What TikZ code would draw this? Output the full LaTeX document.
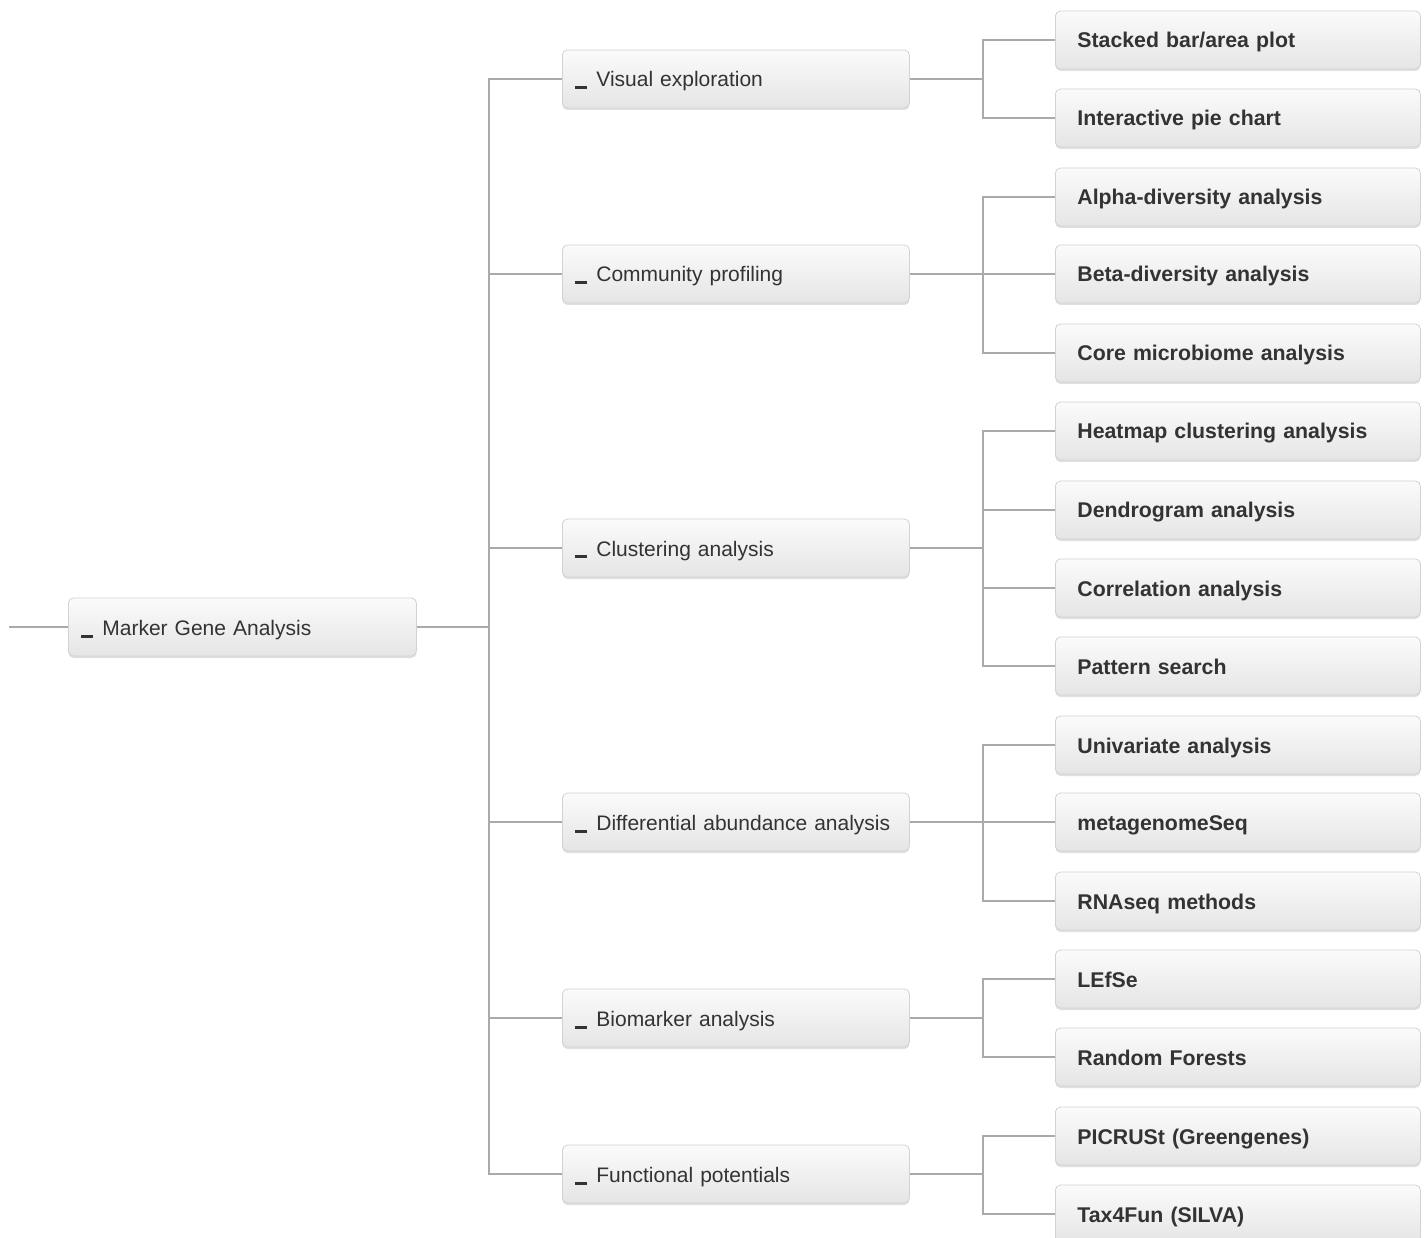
\documentclass[tikz,border=0pt]{standalone}
\usepackage{fontspec}
\setmainfont{Liberation Sans}
\usetikzlibrary{shadows}
\definecolor{txt}{HTML}{333333}
\definecolor{edge}{HTML}{AAAAAA}
\definecolor{bord}{HTML}{D2D2D2}
\definecolor{boxtop}{HTML}{FBFBFB}
\definecolor{boxbot}{HTML}{E5E5E5}
\newcommand{\mydash}{\rule[-2.5pt]{12pt}{3pt}\hspace{9pt}}
\tikzset{
  box/.style={draw=bord, line width=0.8pt, rounded corners=5pt,
    top color=boxtop, bottom color=boxbot,
    drop shadow={shadow xshift=0pt, shadow yshift=-2pt, opacity=0.12, fill=black},
    minimum height=58pt, text=txt, align=left, text height=16pt, text depth=0pt,
    font=\fontsize{21}{25}\selectfont, anchor=west},
  rootbox/.style={box, minimum width=348pt, text width=322pt, inner xsep=13pt},
  midbox/.style={box, minimum width=347pt, text width=321pt, inner xsep=13pt},
  leafbox/.style={box, minimum width=365pt, text width=321pt, inner xsep=22pt,
    font=\fontsize{21.3}{25}\selectfont\bfseries},
  conn/.style={draw=edge, line width=1.8pt}
}
\begin{document}
\begin{tikzpicture}[x=1pt,y=-1pt]
\useasboundingbox (0,0) rectangle (1428,1238);
% root
\node[rootbox] (root) at (68,627) {\mydash Marker Gene Analysis};
% level 2
\node[midbox] (vis) at (562,79) {\mydash Visual exploration};
\node[midbox] (com) at (562,274) {\mydash Community profiling};
\node[midbox] (clu) at (562,548) {\mydash Clustering analysis};
\node[midbox] (dif) at (562,822) {\mydash Differential abundance analysis};
\node[midbox] (bio) at (562,1018) {\mydash Biomarker analysis};
\node[midbox] (fun) at (562,1174) {\mydash Functional potentials};
% level 3
\node[leafbox] (s1) at (1055,40) {Stacked bar/area plot};
\node[leafbox] (s2) at (1055,118) {Interactive pie chart};
\node[leafbox] (c1) at (1055,197) {Alpha-diversity analysis};
\node[leafbox] (c2) at (1055,274) {Beta-diversity analysis};
\node[leafbox] (c3) at (1055,353) {Core microbiome analysis};
\node[leafbox] (k1) at (1055,431) {Heatmap clustering analysis};
\node[leafbox] (k2) at (1055,510) {Dendrogram analysis};
\node[leafbox] (k3) at (1055,588) {Correlation analysis};
\node[leafbox] (k4) at (1055,666) {Pattern search};
\node[leafbox] (d1) at (1055,745) {Univariate analysis};
\node[leafbox] (d2) at (1055,822) {metagenomeSeq};
\node[leafbox] (d3) at (1055,901) {RNAseq methods};
\node[leafbox] (b1) at (1055,979) {LEfSe};
\node[leafbox] (b2) at (1055,1057) {Random Forests};
\node[leafbox] (f1) at (1055,1136) {PICRUSt (Greengenes)};
\node[leafbox] (f2) at (1055,1214) {Tax4Fun (SILVA)};
% connectors
\coordinate (start) at (9,627);
\draw[conn] (start) -- (root.west);
\coordinate (j0) at (489,627);
\draw[conn] (root.east) -- (j0);
\foreach \c in {vis,com,clu,dif,bio,fun} \draw[conn] (j0) |- (\c.west);
\coordinate (jv) at (983,79);
\draw[conn] (vis.east) -- (jv);
\foreach \c in {s1,s2} \draw[conn] (jv) |- (\c.west);
\coordinate (jc) at (983,274);
\draw[conn] (com.east) -- (jc);
\foreach \c in {c1,c2,c3} \draw[conn] (jc) |- (\c.west);
\coordinate (jk) at (983,548);
\draw[conn] (clu.east) -- (jk);
\foreach \c in {k1,k2,k3,k4} \draw[conn] (jk) |- (\c.west);
\coordinate (jd) at (983,822);
\draw[conn] (dif.east) -- (jd);
\foreach \c in {d1,d2,d3} \draw[conn] (jd) |- (\c.west);
\coordinate (jb) at (983,1018);
\draw[conn] (bio.east) -- (jb);
\foreach \c in {b1,b2} \draw[conn] (jb) |- (\c.west);
\coordinate (jf) at (983,1174);
\draw[conn] (fun.east) -- (jf);
\foreach \c in {f1,f2} \draw[conn] (jf) |- (\c.west);
\end{tikzpicture}
\end{document}
